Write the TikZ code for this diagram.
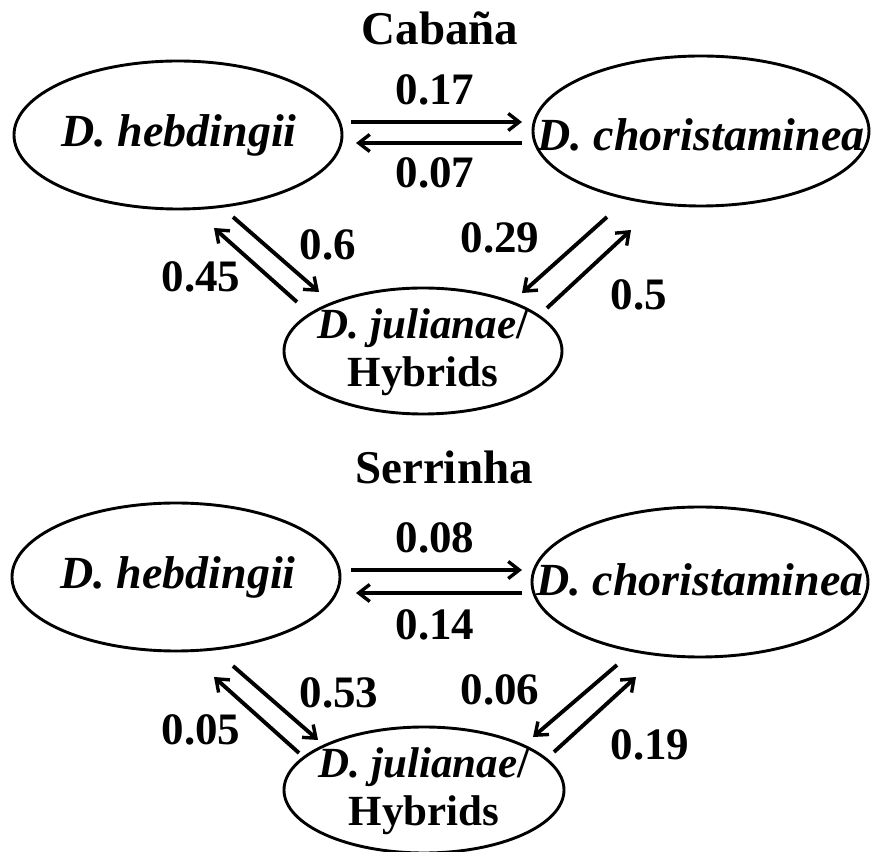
\documentclass[tikz,border=0pt]{standalone}
\usepackage{fontspec}
\setmainfont{Liberation Serif}
\usetikzlibrary{shapes.geometric,arrows.meta,calc}
\tikzset{
  sp/.style={draw, ellipse, line width=2.9pt, inner sep=0pt},
  sptext/.style={inner sep=0pt, align=center, font=\fontsize{46}{48}\selectfont\bfseries},
  jtext/.style={inner sep=0pt, align=center, font=\fontsize{43}{48}\selectfont\bfseries},
  arr/.style={-{Straight Barb[length=11pt,width=17pt,line width=3.4pt]}, line width=3.9pt},
  num/.style={font=\fontsize{45}{48}\selectfont\bfseries, inner sep=0pt},
  ttl/.style={font=\fontsize{47}{50}\selectfont\bfseries, inner sep=0pt}
}
\begin{document}
\begin{tikzpicture}[x=1pt,y=1pt]
\useasboundingbox (0,0) rectangle (871,852);
% ---------- Cabana ----------
\node[ttl] (t1) at (440,824) {Cabaña};
\node[sp, minimum width=328, minimum height=148] (hl) at (178,717) {};
\node[sp, minimum width=336, minimum height=150] (hr) at (701,721) {};
\node[sp, minimum width=278, minimum height=126] (hj) at (423,501) {};
\node[sptext] (hlt) at ($(hl)+(1,0)$) {\itshape D. hebdingii};
\node[sptext] (hrt) at ($(hr)+(0,-4)$) {\itshape D. choristaminea};
\node[jtext] (hjt) at ($(hj)+(0,-1)$) {\textit{D. julianae}/\\Hybrids};
\draw[arr] ($(hl)+(173,13)$) -- ($(hr)+(-179,9)$);
\draw[arr] ($(hr)+(-179,-12)$) -- ($(hl)+(178,-8)$);
\draw[arr] ($(hl)+(55,-82)$) -- ($(hj)+(-104,59)$);
\draw[arr] ($(hj)+(-126,49)$) -- ($(hl)+(36,-93)$);
\draw[arr] ($(hr)+(-94,-86)$) -- ($(hj)+(99,58)$);
\draw[arr] ($(hj)+(124,43)$) -- ($(hr)+(-70,-99)$);
\node[num] (n1) at (435,762) {0.17};
\node[num] (n2) at (435,679) {0.07};
\node[num] (n3) at (328,607) {0.6};
\node[num] (n4) at (201,575) {0.45};
\node[num] (n5) at (500,614) {0.29};
\node[num] (n6) at (639,557) {0.5};
% ---------- Serrinha ----------
\node[ttl] (t2) at (444,385) {Serrinha};
\node[sp, minimum width=328, minimum height=148] (hl2) at (176,275) {};
\node[sp, minimum width=336, minimum height=150] (hr2) at (700,270) {};
\node[sp, minimum width=280, minimum height=126] (hj2) at (424,62) {};
\node[sptext] (hlt2) at ($(hl2)+(2,0)$) {\itshape D. hebdingii};
\node[sptext] (hrt2) at ($(hr2)+(0,2)$) {\itshape D. choristaminea};
\node[jtext] (hjt2) at ($(hj2)+(0,-1)$) {\textit{D. julianae}/\\Hybrids};
\draw[arr] ($(hl2)+(175,7)$) -- ($(hr2)+(-178,12)$);
\draw[arr] ($(hr2)+(-178,-11)$) -- ($(hl2)+(180,-16)$);
\draw[arr] ($(hl2)+(57,-89)$) -- ($(hj2)+(-106,50)$);
\draw[arr] ($(hj2)+(-125,37)$) -- ($(hl2)+(38,-100)$);
\draw[arr] ($(hr2)+(-83,-83)$) -- ($(hj2)+(109,53)$);
\draw[arr] ($(hj2)+(130,38)$) -- ($(hr2)+(-64,-95)$);
\node[num] (m1) at (435,314) {0.08};
\node[num] (m2) at (435,227) {0.14};
\node[num] (m3) at (339,159) {0.53};
\node[num] (m4) at (201,122) {0.05};
\node[num] (m5) at (500,162) {0.06};
\node[num] (m6) at (650,107) {0.19};
\end{tikzpicture}
\end{document}
